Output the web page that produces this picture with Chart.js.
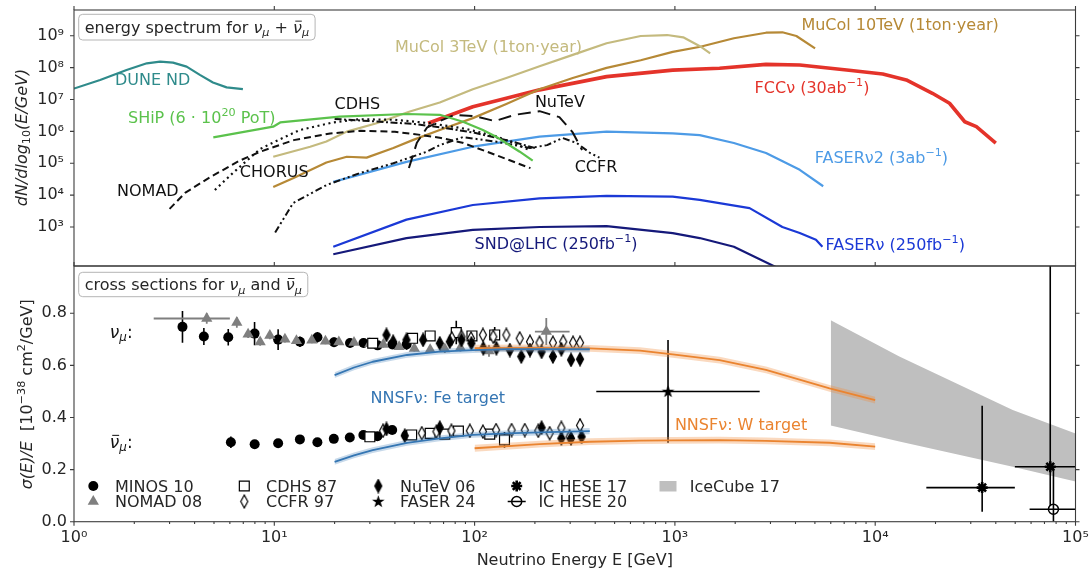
<!DOCTYPE html>
<html>
<head>
<meta charset="utf-8">
<script src="https://cdn.jsdelivr.net/npm/chart.js@4.4.1/dist/chart.umd.min.js"></script>
<style>
  html, body { margin: 0; padding: 0; background: #ffffff; }
  #wrap { position: relative; width: 1089px; height: 569px; overflow: hidden; }
  #wrap canvas { position: absolute; left: 0; top: 0; }
</style>
</head>
<body>
<div id="wrap">
  <canvas id="spec" width="1089" height="569"></canvas>
  <canvas id="xsec" width="1089" height="569"></canvas>
</div>
<script>
// ================= Neutrino energy spectra, dN/dlog10(E/GeV) =================
const duneE    = [1.0, 1.35, 1.83, 2.31, 2.69, 3.12, 3.65, 4.25, 4.94, 5.78, 6.97];
const duneFlux = [2.2e7, 4.1e7, 8.4e7, 1.36e8, 1.53e8, 1.43e8, 1.07e8, 5.9e7, 3.4e7, 2.4e7, 2.1e7];

const shipE    = [4.96, 9.87, 10.7, 21.2, 45.7, 67, 87.5, 110, 128, 150, 168, 195];
const shipFlux = [6.5e5, 1.4e6, 1.9e6, 2.9e6, 3.5e6, 3.3e6, 2.0e6, 1.1e6, 6.8e5, 3.6e5, 2.3e5, 1.2e5];

const nomadSpecE    = [3.0, 3.6, 4.8, 6.7, 8.5, 12.5, 19, 27, 40, 54, 68, 87, 128, 190];
const nomadSpecFlux = [3.7e3, 1.2e4, 3.7e4, 1.2e5, 2.3e5, 5.3e5, 8.6e5, 1.04e6, 9.7e5, 7.7e5, 6.2e5, 4.4e5, 1.8e5, 7.0e4];

const chorusE    = [5.05, 6.2, 8.5, 9.9, 13.4, 19.6, 26.7, 40, 60, 90, 128, 160, 190];
const chorusFlux = [1.45e4, 4.9e4, 2.8e5, 4.5e5, 1.1e6, 1.9e6, 2.4e6, 2.3e6, 1.8e6, 1.2e6, 7.0e5, 4.0e5, 2.5e5];

const cdhsSpecE    = [20, 30, 50, 70, 100, 150, 200];
const cdhsSpecFlux = [2.45e6, 2.1e6, 1.7e6, 1.3e6, 9.0e5, 5.0e5, 3.0e5];

const ccfrSpecE    = [10.1, 12.4, 18.3, 26.7, 39.3, 57.7, 67, 87.4, 129, 189, 230, 275, 324, 377, 420];
const ccfrSpecFlux = [6.7e2, 5.6e3, 2.1e4, 4.9e4, 1.0e5, 2.3e5, 3.7e5, 6.6e5, 4.7e5, 3.0e5, 3.7e5, 6.2e5, 4.3e5, 2.1e5, 1.5e5];

const nutevSpecE    = [47, 51.5, 57.8, 67, 79.5, 100, 126, 159, 211, 265, 308, 344];
const nutevSpecFlux = [7.1e4, 4.4e5, 1.3e6, 2.1e6, 3.3e6, 3.0e6, 2.1e6, 3.3e6, 4.3e6, 2.8e6, 9.5e5, 2.6e5];

const mucol3E    = [9.88, 15.1, 18.2, 23, 32.4, 47.5, 67, 98, 144, 211, 309, 456, 675, 915, 1100, 1340, 1500];
const mucol3Flux = [1.6e5, 3.3e5, 4.8e5, 9.8e5, 1.8e6, 4.2e6, 8.0e6, 2.1e7, 4.7e7, 1.1e8, 2.5e8, 5.8e8, 9.8e8, 1.05e9, 8.9e8, 4.6e8, 2.8e8];

const mucol10E    = [9.88, 12.4, 18.2, 23, 28.9, 39.3, 49.4, 67, 98, 144, 211, 309, 456, 675, 975, 1340, 1970, 2850, 3440, 4040, 5010];
const mucol10Flux = [1.8e4, 3.4e4, 1.05e5, 1.6e5, 1.5e5, 3.0e5, 5.4e5, 1.1e6, 2.6e6, 7.2e6, 2.1e7, 4.7e7, 9.8e7, 1.7e8, 3.1e8, 4.5e8, 8.3e8, 1.24e9, 1.28e9, 9.8e8, 4.0e8];

const fccE    = [58.6, 98, 144, 211, 456, 975, 1670, 2850, 4200, 7400, 10900, 14300, 19300, 23500, 28000, 32000, 40000];
const fccFlux = [1.8e6, 5.9e6, 1.1e7, 2.0e7, 5.2e7, 8.3e7, 9.5e7, 1.26e8, 1.2e8, 8.3e7, 6.3e7, 4.1e7, 1.56e7, 7.6e6, 2.0e6, 1.4e6, 4.3e5];

const faser2E    = [19.7, 45.7, 98, 211, 456, 975, 1330, 1970, 2850, 4200, 5500];
const faser2Flux = [2.6e4, 1.1e5, 3.3e5, 6.8e5, 9.8e5, 8.7e5, 7.6e5, 4.3e5, 2.1e5, 6.2e4, 1.9e4];

const faserE    = [19.7, 45.7, 98, 211, 456, 975, 1330, 2360, 3440, 4200, 5060, 5450];
const faserFlux = [2.4e2, 1.7e3, 4.9e3, 7.9e3, 9.5e3, 9.0e3, 7.1e3, 3.9e3, 1.0e3, 6.5e2, 4.0e2, 2.4e2];

const sndE    = [19.7, 45.7, 98, 211, 456, 975, 1330, 1970, 3300];
const sndFlux = [1.4e2, 4.5e2, 8.1e2, 1.0e3, 1.07e3, 6.4e2, 4.5e2, 2.4e2, 50];

// ================= Cross sections sigma(E)/E [1e-38 cm^2/GeV] =================
const minosNuE     = [3.48, 4.45, 5.89, 7.97, 10.45, 13.43, 16.42, 19.87, 23.88, 27.89, 32.81, 38.87, 45.77];
const minosNuSigma = [0.748, 0.711, 0.708, 0.722, 0.699, 0.691, 0.708, 0.689, 0.686, 0.686, 0.677, 0.680, 0.680];
const minosNuErr   = [0.061, 0.033, 0.032, 0.045, 0.040, 0.020, 0.020, 0.018, 0.017, 0.017, 0.017, 0.017, 0.020];

const minosNubarE     = [6.07, 7.98, 10.45, 13.42, 16.41, 19.82, 23.82, 27.84, 32.72, 38.78, 45.66];
const minosNubarSigma = [0.305, 0.297, 0.301, 0.316, 0.305, 0.318, 0.323, 0.333, 0.328, 0.352, 0.332];
const minosNubarErr   = [0.022, 0.012, 0.011, 0.011, 0.010, 0.010, 0.010, 0.010, 0.010, 0.010, 0.012];

const nomadE     = [4.6, 6.5, 7.4, 8.5, 9.5, 11.3, 12.9, 15.4, 18, 21, 25, 30, 35, 42, 50, 60, 71, 85, 118, 228];
const nomadSigma = [0.780, 0.765, 0.720, 0.690, 0.715, 0.700, 0.695, 0.697, 0.693, 0.690, 0.688, 0.683, 0.680, 0.672, 0.665, 0.660, 0.663, 0.668, 0.655, 0.730];
const nomadErr   = [0.020, 0.020, 0.015, 0.015, 0.015, 0.012, 0.012, 0.012, 0.012, 0.012, 0.012, 0.012, 0.012, 0.012, 0.012, 0.012, 0.015, 0.015, 0.022, 0.052];
const nomadELo   = [2.5, 6.5, 7.4, 8.5, 9.5, 11.3, 12.9, 15.4, 18, 21, 25, 30, 35, 42, 50, 60, 71, 85, 118, 200];
const nomadEHi   = [6.0, 6.5, 7.4, 8.5, 9.5, 11.3, 12.9, 15.4, 18, 21, 25, 30, 35, 42, 50, 60, 71, 85, 118, 298];

const cdhsNuE     = [31, 49, 60, 81, 97, 126];
const cdhsNuSigma = [0.685, 0.704, 0.713, 0.726, 0.713, 0.717];
const cdhsNuErr   = [0.012, 0.012, 0.012, 0.045, 0.015, 0.030];
const cdhsNubarE     = [30, 48.5, 60, 71, 83, 119, 141];
const cdhsNubarSigma = [0.326, 0.333, 0.339, 0.336, 0.348, 0.336, 0.314];
const cdhsNubarErr   = [0.010, 0.010, 0.010, 0.010, 0.012, 0.012, 0.030];

const ccfrNuE     = [77, 86, 96, 110, 124, 144, 168, 189, 211, 246, 277, 310, 336];
const ccfrNuSigma = [0.704, 0.710, 0.704, 0.717, 0.710, 0.717, 0.704, 0.691, 0.687, 0.687, 0.691, 0.687, 0.687];
const ccfrNuErr   = [0.012, 0.012, 0.012, 0.012, 0.012, 0.012, 0.012, 0.012, 0.012, 0.012, 0.012, 0.012, 0.012];
const ccfrNubarE     = [34.9, 54.5, 64.5, 76.6, 94.7, 110, 128, 153, 178, 208, 237, 271, 298, 336];
const ccfrNubarSigma = [0.349, 0.340, 0.346, 0.349, 0.349, 0.346, 0.352, 0.352, 0.352, 0.349, 0.340, 0.360, 0.326, 0.370];
const ccfrNubarErr   = [0.010, 0.010, 0.010, 0.010, 0.010, 0.010, 0.010, 0.010, 0.010, 0.010, 0.012, 0.012, 0.015, 0.025];

const nutevNuE     = [36.3, 39.2, 45.7, 55.3, 67, 75.2, 86, 96.4, 110.5, 128.5, 150, 171, 189, 216, 246, 271, 303, 336];
const nutevNuSigma = [0.717, 0.691, 0.698, 0.698, 0.685, 0.691, 0.698, 0.685, 0.666, 0.666, 0.659, 0.634, 0.659, 0.652, 0.634, 0.662, 0.621, 0.624];
const nutevNuErr   = [0.015, 0.015, 0.015, 0.015, 0.015, 0.015, 0.015, 0.015, 0.015, 0.015, 0.015, 0.015, 0.015, 0.015, 0.015, 0.015, 0.018, 0.018];
const nutevNubarE     = [36.3, 44.8, 67, 216, 271, 303, 342];
const nutevNubarSigma = [0.356, 0.330, 0.361, 0.361, 0.320, 0.320, 0.326];
const nutevNubarErr   = [0.012, 0.012, 0.012, 0.012, 0.012, 0.012, 0.012];

const faserXsE = [924],  faserXsSigma = [0.50];
const faserXsELo = [405], faserXsEHi = [2650];
const faserXsLo = [0.303], faserXsHi = [0.698];

const icHese17E = [34200, 74800], icHese17Sigma = [0.131, 0.211];
const icHese17ELo = [18000, 49800], icHese17EHi = [49800, 200000];
const icHese17Lo = [0.038, 0.060], icHese17Hi = [0.445, 1.20];

const icHese20E = [77600], icHese20Sigma = [0.048];
const icHese20ELo = [59000], icHese20EHi = [200000];
const icHese20Lo = [0.0], icHese20Hi = [0.21];

const iceCubeE     = [6000, 13200, 48600, 100000];
const iceCubeUpper = [0.773, 0.634, 0.429, 0.339];
const iceCubeLower = [0.369, 0.308, 0.211, 0.154];

const nnsfFeE        = [20, 25, 31, 46, 67, 98, 144, 211, 376];
const nnsfFeNu       = [0.563, 0.592, 0.614, 0.640, 0.653, 0.659, 0.662, 0.662, 0.662];
const nnsfFeNubar    = [0.230, 0.255, 0.275, 0.303, 0.320, 0.333, 0.339, 0.343, 0.348];
const nnsfFeUnc      = [0.011, 0.011, 0.011, 0.011, 0.011, 0.011, 0.011, 0.012, 0.012];

const nnsfWE         = [100, 211, 376, 670, 975, 1670, 2850, 5920, 10000];
const nnsfWNu        = [0.666, 0.667, 0.665, 0.657, 0.642, 0.620, 0.583, 0.512, 0.467];
const nnsfWNubar     = [0.282, 0.298, 0.307, 0.311, 0.312, 0.313, 0.310, 0.303, 0.288];
const nnsfWUnc       = [0.013, 0.013, 0.013, 0.013, 0.013, 0.013, 0.013, 0.013, 0.013];

// ================= Axis ticks =================
const energyTicks = [1, 10, 100, 1e3, 1e4, 1e5];
const fluxTicks   = [1e3, 1e4, 1e5, 1e6, 1e7, 1e8, 1e9];
const xsecTicks   = [0.0, 0.2, 0.4, 0.6, 0.8];

// ================= Styling =================
const FAM = '"DejaVu Sans", "Liberation Sans", sans-serif';
const C = {
  dune: '#2f8b8b', ship: '#5bc24c', mucol3: '#c4ba7e', mucol10: '#b68936', fcc: '#e4332a',
  faser2: '#4d9be6', faser: '#1b39d6', snd: '#15197a', ink: '#111111', text: '#262626',
  fe: '#3576b3', w: '#ea8430', ice: '#bfbfbf', nomad: '#7f7f7f', frame: '#3c3c3c'
};

const pts = (xs, ys) => xs.map((x, i) => ({ x, y: ys[i] }));
const minus = (a, b) => a.map((v, i) => v - b[i]);
const plus  = (a, b) => a.map((v, i) => v + b[i]);

function curve(label, xs, ys, color, width, dash, order) {
  return {
    label, data: pts(xs, ys), showLine: true, fill: false,
    borderColor: color, backgroundColor: color, borderWidth: width,
    borderDash: dash || [], borderCapStyle: 'butt', borderJoinStyle: 'round',
    pointRadius: 0, pointHoverRadius: 0, tension: 0, order: order || 0
  };
}

function markerCanvas(w, h, paint) {
  const c = document.createElement('canvas');
  c.width = w; c.height = h;
  paint(c.getContext('2d'), w, h);
  return c;
}
function thinDiamond(filled) {
  return markerCanvas(10, 15, (g, w, h) => {
    g.beginPath();
    g.moveTo(w / 2, 1); g.lineTo(w - 1.5, h / 2); g.lineTo(w / 2, h - 1); g.lineTo(1.5, h / 2);
    g.closePath();
    g.fillStyle = filled ? '#000' : '#fff'; g.fill();
    g.lineWidth = 1.2; g.strokeStyle = '#000'; g.stroke();
  });
}
function fivePointStar() {
  return markerCanvas(15, 15, (g) => {
    g.beginPath();
    for (let k = 0; k < 10; k++) {
      const r = k % 2 ? 2.6 : 6.6, a = -Math.PI / 2 + k * Math.PI / 5;
      const px = 7.5 + r * Math.cos(a), py = 7.8 + r * Math.sin(a);
      k ? g.lineTo(px, py) : g.moveTo(px, py);
    }
    g.closePath(); g.fillStyle = '#000'; g.fill();
  });
}

const MK = {
  minos: { pointStyle: 'circle', radius: 5, fill: '#000', stroke: '#000', bw: 0 },
  nomad: { pointStyle: 'triangle', radius: 6.5, fill: C.nomad, stroke: C.nomad, bw: 0 },
  cdhs:  { pointStyle: 'rect', radius: 7, fill: '#fff', stroke: '#000', bw: 1.2 },
  ccfr:  { pointStyle: thinDiamond(false), radius: 5, fill: '#fff', stroke: '#000', bw: 0 },
  nutev: { pointStyle: thinDiamond(true), radius: 5, fill: '#000', stroke: '#000', bw: 0 },
  faser: { pointStyle: fivePointStar(), radius: 6, fill: '#000', stroke: '#000', bw: 0 },
  ic17:  { pointStyle: 'star', radius: 5.5, fill: '#000', stroke: '#000', bw: 2.6 },
  ic20:  { pointStyle: 'circle', radius: 5, fill: 'rgba(255,255,255,0)', stroke: '#000', bw: 1.5 }
};

function markers(label, mk, xs, ys, err, order) {
  return {
    label, data: pts(xs, ys), showLine: false,
    pointStyle: mk.pointStyle, pointRadius: mk.radius, pointHoverRadius: mk.radius,
    pointBackgroundColor: mk.fill, pointBorderColor: mk.stroke, pointBorderWidth: mk.bw,
    errorBars: err, order: order
  };
}
function bandPair(label, xs, lo, hi, color, order) {
  return [
    { label: label + ' hi', data: pts(xs, hi), showLine: true, borderWidth: 0, pointRadius: 0,
      backgroundColor: color, fill: '+1', tension: 0, order },
    { label: label + ' lo', data: pts(xs, lo), showLine: true, borderWidth: 0, pointRadius: 0,
      backgroundColor: color, fill: false, tension: 0, order }
  ];
}

// ----- rich text: segments [text, flags] ; i = italic, u = superscript, d = subscript, b = overbar
function drawRich(ctx, segs, x, y, size, color, align) {
  const parts = segs.map(([t, f = '']) => {
    const small = f.includes('u') || f.includes('d');
    const sz = small ? size * 0.7 : size;
    const css = (f.includes('i') ? 'italic ' : '') + sz.toFixed(1) + 'px ' + FAM;
    ctx.font = css;
    return { t, f, css, w: ctx.measureText(t).width };
  });
  const total = parts.reduce((s, p) => s + p.w, 0);
  let cx = align === 'center' ? x - total / 2 : (align === 'right' ? x - total : x);
  const base = y + size * 0.365;
  ctx.fillStyle = color; ctx.strokeStyle = color;
  ctx.textBaseline = 'alphabetic'; ctx.textAlign = 'left';
  for (const p of parts) {
    ctx.font = p.css;
    let by = base;
    if (p.f.includes('u')) by = base - size * 0.42;
    if (p.f.includes('d')) by = base + size * 0.2;
    ctx.fillText(p.t, cx, by);
    if (p.f.includes('b')) {
      ctx.lineWidth = Math.max(1, size * 0.06);
      ctx.beginPath();
      ctx.moveTo(cx + p.w * 0.25, by - size * 0.74);
      ctx.lineTo(cx + p.w * 0.98, by - size * 0.74);
      ctx.stroke();
    }
    cx += p.w;
  }
  return total;
}

function titleBox(ctx, segs, left, top, height, size) {
  ctx.font = size + 'px ' + FAM;
  const w = drawRichMeasure(ctx, segs, size) + 12;
  ctx.save();
  ctx.beginPath();
  ctx.roundRect(left, top, w, height, 4);
  ctx.fillStyle = 'rgba(255,255,255,0.85)'; ctx.fill();
  ctx.lineWidth = 1; ctx.strokeStyle = '#b5b5b5'; ctx.stroke();
  drawRich(ctx, segs, left + 6, top + height / 2, size, C.text, 'left');
  ctx.restore();
}
function drawRichMeasure(ctx, segs, size) {
  let total = 0;
  for (const [t, f = ''] of segs) {
    const small = f.includes('u') || f.includes('d');
    ctx.font = (f.includes('i') ? 'italic ' : '') + (small ? size * 0.7 : size).toFixed(1) + 'px ' + FAM;
    total += ctx.measureText(t).width;
  }
  return total;
}

function decorPlugin(cfg) {
  return {
    id: 'decor',
    beforeDatasetDraw(chart, args) {
      const ds = chart.data.datasets[args.index];
      const e = ds.errorBars;
      if (!e) return;
      const { ctx, chartArea: a, scales: { x, y } } = chart;
      ctx.save();
      ctx.beginPath(); ctx.rect(a.left, a.top, a.right - a.left, a.bottom - a.top); ctx.clip();
      ctx.strokeStyle = e.color; ctx.lineWidth = e.width; ctx.lineCap = 'butt';
      ctx.beginPath();
      ds.data.forEach((p, i) => {
        const px = x.getPixelForValue(p.x), py = y.getPixelForValue(p.y);
        if (e.yLo) { ctx.moveTo(px, y.getPixelForValue(e.yLo[i])); ctx.lineTo(px, y.getPixelForValue(e.yHi[i])); }
        if (e.xLo && e.xHi[i] > e.xLo[i]) { ctx.moveTo(x.getPixelForValue(e.xLo[i]), py); ctx.lineTo(x.getPixelForValue(e.xHi[i]), py); }
      });
      ctx.stroke();
      ctx.restore();
    },
    afterDatasetsDraw(chart) {
      const { ctx, chartArea: a, scales: { x, y } } = chart;
      ctx.save();
      for (const lb of cfg.labels) {
        drawRich(ctx, lb.segs, x.getPixelForValue(lb.at[0]), y.getPixelForValue(lb.at[1]), lb.size || 16, lb.color, 'left');
      }
      titleBox(ctx, cfg.title.segs, a.left + 4.7, a.top + cfg.title.dy, cfg.title.h, 16);
      if (cfg.legend) {
        for (const it of cfg.legend) {
          const mx = a.left + cfg.legendCols[it.col], my = a.bottom + cfg.legendRows[it.row];
          if (it.patch) {
            ctx.fillStyle = it.patch; ctx.fillRect(mx - 8.5, my - 5, 17, 10.5);
          } else {
            const mk = it.mk;
            if (it.hline) {
              ctx.strokeStyle = '#000'; ctx.lineWidth = 1.5;
              ctx.beginPath(); ctx.moveTo(mx - 9, my); ctx.lineTo(mx + 9, my); ctx.stroke();
            }
            ctx.fillStyle = mk.fill; ctx.strokeStyle = mk.stroke; ctx.lineWidth = mk.bw;
            Chart.helpers.drawPoint(ctx, { pointStyle: mk.pointStyle, radius: mk.radius, rotation: 0, borderWidth: mk.bw }, mx, my);
          }
          drawRich(ctx, [[it.text]], mx + 21.7, my, 16, C.text, 'left');
        }
      }
      ctx.restore();
    },
    afterDraw(chart) {
      const { ctx, chartArea: a, scales: { x, y } } = chart;
      ctx.save();
      ctx.strokeStyle = C.frame; ctx.lineWidth = 1.1;
      ctx.strokeRect(a.left, a.top, a.right - a.left, a.bottom - a.top);
      ctx.beginPath();
      for (const v of energyTicks) {
        const px = x.getPixelForValue(v);
        ctx.moveTo(px, a.top); ctx.lineTo(px, a.top - 4);
        if (cfg.bottomTicks) { ctx.moveTo(px, a.bottom); ctx.lineTo(px, a.bottom + 4); }
      }
      if (cfg.bottomTicks) {
        for (let d = 1; d < 1e5; d *= 10) {
          for (let m = 2; m <= 9; m++) {
            const px = x.getPixelForValue(m * d);
            ctx.moveTo(px, a.bottom); ctx.lineTo(px, a.bottom + 2.2);
          }
        }
      }
      for (const v of cfg.yTicks) {
        const py = y.getPixelForValue(v);
        ctx.moveTo(a.left, py); ctx.lineTo(a.left - 4, py);
        ctx.moveTo(a.right, py); ctx.lineTo(a.right + 4, py);
      }
      ctx.stroke();
      // axis titles
      ctx.save();
      ctx.translate(cfg.yTitle.x, (a.top + a.bottom) / 2 + cfg.yTitle.dy);
      ctx.rotate(-Math.PI / 2);
      drawRich(ctx, cfg.yTitle.segs, 0, 0, 16, C.text, 'center');
      ctx.restore();
      if (cfg.xTitle) drawRich(ctx, cfg.xTitle.segs, (a.left + a.right) / 2, cfg.xTitle.y, 16, C.text, 'center');
      ctx.restore();
    }
  };
}

const SUP = { '0': '⁰', '1': '¹', '2': '²', '3': '³', '4': '⁴', '5': '⁵', '6': '⁶', '7': '⁷', '8': '⁸', '9': '⁹', '-': '⁻' };
const powLabel = v => '10' + String(Math.round(Math.log10(v))).split('').map(ch => SUP[ch]).join('');

Chart.defaults.font.family = FAM;
Chart.defaults.color = C.text;

// ---------------- top panel: spectra ----------------
new Chart(document.getElementById('spec'), {
  type: 'scatter',
  data: {
    datasets: [
      curve('DUNE ND', duneE, duneFlux, C.dune, 2.2),
      curve('SHiP', shipE, shipFlux, C.ship, 2.2),
      curve('NOMAD', nomadSpecE, nomadSpecFlux, C.ink, 2, [7, 4]),
      curve('CHORUS', chorusE, chorusFlux, C.ink, 2.2, [2, 3.6]),
      curve('CDHS', cdhsSpecE, cdhsSpecFlux, C.ink, 2, [7, 2.5, 2, 2.5]),
      curve('CCFR', ccfrSpecE, ccfrSpecFlux, C.ink, 2, [7, 3, 2, 3, 2, 3]),
      curve('NuTeV', nutevSpecE, nutevSpecFlux, C.ink, 2, [13, 7]),
      curve('MuCol 3TeV', mucol3E, mucol3Flux, C.mucol3, 2.2),
      curve('MuCol 10TeV', mucol10E, mucol10Flux, C.mucol10, 2.2),
      curve('FCCnu', fccE, fccFlux, C.fcc, 3.6),
      curve('FASERnu2', faser2E, faser2Flux, C.faser2, 2.2),
      curve('FASERnu', faserE, faserFlux, C.faser, 2.2),
      curve('SND@LHC', sndE, sndFlux, C.snd, 2.2)
    ]
  },
  options: {
    responsive: false, animation: false, devicePixelRatio: 1,
    layout: { padding: { left: 0, right: 13.5, top: 10, bottom: 303 } },
    plugins: { legend: { display: false }, tooltip: { enabled: false } },
    scales: {
      x: { type: 'logarithmic', min: 1, max: 1e5, display: false },
      y: {
        type: 'logarithmic', min: 59.8, max: 6.4e9,
        afterBuildTicks: s => { s.ticks = fluxTicks.map(v => ({ value: v, major: true })); },
        afterFit: s => { s.width = 74; s.paddingTop = 0; s.paddingBottom = 0; },
        grid: { display: false, drawTicks: true, tickLength: 4 },
        border: { display: false },
        ticks: { font: { family: FAM, size: 16 }, color: C.text, padding: 6, callback: v => powLabel(v) }
      }
    }
  },
  plugins: [decorPlugin({
    yTicks: fluxTicks, bottomTicks: false,
    title: { dy: 4.3, h: 25.7, segs: [['energy spectrum for '], ['ν', 'i'], ['μ', 'id'], [' + '], ['ν', 'ib'], ['μ', 'id']] },
    yTitle: { x: 21, dy: -0.5, segs: [['dN/dlog', 'i'], ['10', 'd'], ['(E/GeV)', 'i']] },
    labels: [
      { at: [1.6, 4.4e7], color: C.dune, segs: [['DUNE ND']] },
      { at: [1.86, 2.8e6], color: C.ship, segs: [['SHiP (6 · 10'], ['20', 'u'], [' PoT)']] },
      { at: [20, 7.5e6], color: C.ink, segs: [['CDHS']] },
      { at: [1.64, 1.46e4], color: C.ink, segs: [['NOMAD']] },
      { at: [6.73, 5.5e4], color: C.ink, segs: [['CHORUS']] },
      { at: [200, 8.6e6], color: C.ink, segs: [['NuTeV']] },
      { at: [316, 7.9e4], color: C.ink, segs: [['CCFR']] },
      { at: [40, 4.75e8], color: C.mucol3, segs: [['MuCol 3TeV (1ton·year)']] },
      { at: [4280, 2.3e9], color: C.mucol10, segs: [['MuCol 10TeV (1ton·year)']] },
      { at: [2500, 2.5e7], color: C.fcc, segs: [['FCCν (30ab'], ['−1', 'u'], [')']] },
      { at: [4990, 1.6e5], color: C.faser2, segs: [['FASERν2 (3ab'], ['−1', 'u'], [')']] },
      { at: [5650, 295], color: C.faser, segs: [['FASERν (250fb'], ['−1', 'u'], [')']] },
      { at: [100, 310], color: C.snd, segs: [['SND@LHC (250fb'], ['−1', 'u'], [')']] }
    ]
  })]
});

// ---------------- bottom panel: cross sections ----------------
const sym = (v, e) => ({ yLo: minus(v, e), yHi: plus(v, e) });
const blackErr = (v, e) => Object.assign({ color: '#000', width: 1.6 }, sym(v, e));

new Chart(document.getElementById('xsec'), {
  type: 'scatter',
  data: {
    datasets: [
      // NNSF predictions on top
      curve('NNSF Fe nu', nnsfFeE, nnsfFeNu, C.fe, 1.8, null, 0),
      curve('NNSF Fe nubar', nnsfFeE, nnsfFeNubar, C.fe, 1.8, null, 0),
      curve('NNSF W nu', nnsfWE, nnsfWNu, C.w, 1.8, null, 0),
      curve('NNSF W nubar', nnsfWE, nnsfWNubar, C.w, 1.8, null, 0),
      ...bandPair('NNSF Fe nu band', nnsfFeE, minus(nnsfFeNu, nnsfFeUnc), plus(nnsfFeNu, nnsfFeUnc), 'rgba(53,118,179,0.28)', 1),
      ...bandPair('NNSF Fe nubar band', nnsfFeE, minus(nnsfFeNubar, nnsfFeUnc), plus(nnsfFeNubar, nnsfFeUnc), 'rgba(53,118,179,0.28)', 1),
      ...bandPair('NNSF W nu band', nnsfWE, minus(nnsfWNu, nnsfWUnc), plus(nnsfWNu, nnsfWUnc), 'rgba(240,140,60,0.33)', 1),
      ...bandPair('NNSF W nubar band', nnsfWE, minus(nnsfWNubar, nnsfWUnc), plus(nnsfWNubar, nnsfWUnc), 'rgba(240,140,60,0.33)', 1),
      // measurements
      markers('IC HESE 20', MK.ic20, icHese20E, icHese20Sigma,
        { color: '#000', width: 1.6, yLo: icHese20Lo, yHi: icHese20Hi, xLo: icHese20ELo, xHi: icHese20EHi }, 2),
      markers('IC HESE 17', MK.ic17, icHese17E, icHese17Sigma,
        { color: '#000', width: 1.6, yLo: icHese17Lo, yHi: icHese17Hi, xLo: icHese17ELo, xHi: icHese17EHi }, 2),
      markers('FASER 24', MK.faser, faserXsE, faserXsSigma,
        { color: '#000', width: 1.6, yLo: faserXsLo, yHi: faserXsHi, xLo: faserXsELo, xHi: faserXsEHi }, 2),
      markers('NuTeV 06 nu', MK.nutev, nutevNuE, nutevNuSigma, blackErr(nutevNuSigma, nutevNuErr), 3),
      markers('NuTeV 06 nubar', MK.nutev, nutevNubarE, nutevNubarSigma, blackErr(nutevNubarSigma, nutevNubarErr), 3),
      markers('CCFR 97 nu', MK.ccfr, ccfrNuE, ccfrNuSigma, blackErr(ccfrNuSigma, ccfrNuErr), 4),
      markers('CCFR 97 nubar', MK.ccfr, ccfrNubarE, ccfrNubarSigma, blackErr(ccfrNubarSigma, ccfrNubarErr), 4),
      markers('CDHS 87 nu', MK.cdhs, cdhsNuE, cdhsNuSigma, blackErr(cdhsNuSigma, cdhsNuErr), 5),
      markers('CDHS 87 nubar', MK.cdhs, cdhsNubarE, cdhsNubarSigma, blackErr(cdhsNubarSigma, cdhsNubarErr), 5),
      markers('NOMAD 08', MK.nomad, nomadE, nomadSigma,
        Object.assign({ color: C.nomad, width: 1.8, xLo: nomadELo, xHi: nomadEHi }, sym(nomadSigma, nomadErr)), 6),
      markers('MINOS 10 nu', MK.minos, minosNuE, minosNuSigma, blackErr(minosNuSigma, minosNuErr), 7),
      markers('MINOS 10 nubar', MK.minos, minosNubarE, minosNubarSigma, blackErr(minosNubarSigma, minosNubarErr), 7),
      // IceCube band at the back
      ...bandPair('IceCube 17', iceCubeE, iceCubeLower, iceCubeUpper, C.ice, 20)
    ]
  },
  options: {
    responsive: false, animation: false, devicePixelRatio: 1,
    layout: { padding: { left: 0, right: 13.5, top: 266, bottom: 0 } },
    plugins: { legend: { display: false }, tooltip: { enabled: false }, filler: { propagate: false } },
    scales: {
      x: {
        type: 'logarithmic', min: 1, max: 1e5,
        afterBuildTicks: s => { s.ticks = energyTicks.map(v => ({ value: v, major: true })); },
        afterFit: s => { s.height = 47.3; s.paddingLeft = 0; s.paddingRight = 0; },
        grid: { display: false, drawTicks: true, tickLength: 4 },
        border: { display: false },
        ticks: { font: { family: FAM, size: 16 }, color: C.text, padding: 3, maxRotation: 0, autoSkip: false, callback: v => powLabel(v) }
      },
      y: {
        type: 'linear', min: 0, max: 0.9816,
        afterBuildTicks: s => { s.ticks = xsecTicks.map(v => ({ value: v })); },
        afterFit: s => { s.width = 74; s.paddingTop = 0; s.paddingBottom = 0; },
        grid: { display: false, drawTicks: true, tickLength: 4 },
        border: { display: false },
        ticks: { font: { family: FAM, size: 16 }, color: C.text, padding: 3, callback: v => v.toFixed(1) }
      }
    }
  },
  plugins: [decorPlugin({
    yTicks: xsecTicks, bottomTicks: true,
    title: { dy: 6.3, h: 24.4, segs: [['cross sections for '], ['ν', 'i'], ['μ', 'id'], [' and '], ['ν', 'ib'], ['μ', 'id']] },
    yTitle: { x: 26, dy: 0.5, segs: [['σ(E)/E', 'i'], ['  [10'], ['−38', 'u'], [' cm'], ['2', 'u'], ['/GeV]']] },
    xTitle: { y: 559.5, segs: [['Neutrino Energy E [GeV]']] },
    labels: [
      { at: [1.51, 0.73], color: C.ink, size: 17, segs: [['ν', 'i'], ['μ', 'id'], [':']] },
      { at: [1.51, 0.307], color: C.ink, size: 17, segs: [['ν', 'ib'], ['μ', 'id'], [':']] },
      { at: [30.2, 0.477], color: C.fe, segs: [['NNSFν: Fe target']] },
      { at: [1000, 0.374], color: C.w, segs: [['NNSFν: W target']] }
    ],
    legendCols: [19.3, 170.3, 304.3, 442.7, 594],
    legendRows: [-35.7, -20.2],
    legend: [
      { text: 'MINOS 10', col: 0, row: 0, mk: MK.minos },
      { text: 'NOMAD 08', col: 0, row: 1, mk: MK.nomad },
      { text: 'CDHS 87', col: 1, row: 0, mk: MK.cdhs },
      { text: 'CCFR 97', col: 1, row: 1, mk: MK.ccfr },
      { text: 'NuTeV 06', col: 2, row: 0, mk: MK.nutev },
      { text: 'FASER 24', col: 2, row: 1, mk: MK.faser },
      { text: 'IC HESE 17', col: 3, row: 0, mk: MK.ic17 },
      { text: 'IC HESE 20', col: 3, row: 1, mk: MK.ic20, hline: true },
      { text: 'IceCube 17', col: 4, row: 0, patch: C.ice }
    ]
  })]
});
</script>
</body>
</html>
